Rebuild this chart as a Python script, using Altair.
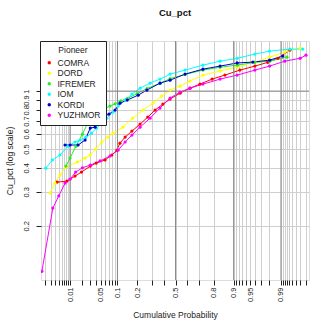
import math
import altair as alt
import pandas as pd

groups = ["COMRA", "DORD", "IFREMER", "IOM", "KORDI", "YUZHMOR"]
colors = ["#FF0000", "#FFFF00", "#22EE22", "#00FFFF", "#0000CD", "#FF00FF"]

comra_p = [0.0045, 0.0083, 0.0133, 0.019, 0.030, 0.040, 0.060, 0.080, 0.098, 0.110, 0.133, 0.168,
           0.217, 0.27, 0.326, 0.39, 0.452, 0.54, 0.625, 0.705, 0.79, 0.862, 0.922, 0.96, 0.979,
           0.988, 0.9942]
comra_v = [0.337, 0.341, 0.362, 0.380, 0.408, 0.423, 0.439, 0.466, 0.494, 0.537, 0.577, 0.620,
           0.674, 0.733, 0.797, 0.856, 0.909, 0.976, 1.036, 1.087, 1.154, 1.211, 1.285, 1.348, 1.41,
           1.48, 1.632]

dord_p = [0.0028, 0.0039, 0.0054, 0.0078, 0.0152, 0.023, 0.030, 0.039, 0.052, 0.068, 0.084, 0.123,
          0.172, 0.237, 0.31, 0.38, 0.452, 0.54, 0.625, 0.727, 0.837, 0.913, 0.96, 0.981, 0.992, 0.997]
dord_v = [0.296, 0.333, 0.367, 0.403, 0.428, 0.449, 0.466, 0.500, 0.544, 0.577, 0.605, 0.650,
          0.724, 0.797, 0.866, 0.942, 1.012, 1.061, 1.127, 1.211, 1.27, 1.332, 1.414, 1.50, 1.594, 1.672]

ifremer_p = [0.0078, 0.010, 0.014, 0.020, 0.027, 0.035, 0.044, 0.055, 0.074, 0.091, 0.114, 0.143,
             0.198, 0.264, 0.366, 0.452, 0.583, 0.727, 0.837, 0.913, 0.96, 0.981, 0.993]
ifremer_v = [0.408, 0.449, 0.518, 0.598, 0.69, 0.76, 0.78, 0.806, 0.836, 0.86, 0.89, 0.915,
             0.97, 1.03, 1.10, 1.16, 1.22, 1.285, 1.33, 1.364, 1.41, 1.43, 1.50]

iom_p = [0.0021, 0.0033, 0.0054, 0.0089, 0.0133, 0.0176, 0.024, 0.032, 0.041, 0.052, 0.065, 0.084,
         0.103, 0.133, 0.168, 0.217, 0.287, 0.366, 0.452, 0.583, 0.727, 0.837, 0.913, 0.96, 0.981,
         0.9942, 0.9975]
iom_v = [0.398, 0.439, 0.466, 0.518, 0.544, 0.557, 0.577, 0.605, 0.643, 0.682, 0.724, 0.778,
         0.836, 0.898, 0.965, 1.036, 1.10, 1.154, 1.225, 1.285, 1.364, 1.43, 1.48, 1.556, 1.613,
         1.652, 1.652]

kordi_p = [0.0074, 0.010, 0.0158, 0.023, 0.030, 0.038, 0.044, 0.055, 0.071, 0.091, 0.11, 0.143,
           0.205, 0.264, 0.366, 0.452, 0.583, 0.727, 0.837, 0.913, 0.956, 0.981, 0.991]
kordi_v = [0.525, 0.525, 0.525, 0.557, 0.643, 0.65, 0.707, 0.733, 0.76, 0.797, 0.866, 0.898,
           0.953, 1.012, 1.10, 1.14, 1.225, 1.30, 1.348, 1.40, 1.414, 1.448, 1.52]

yuzhmor_p = [0.0016, 0.0034, 0.005, 0.0074, 0.010, 0.0138, 0.020, 0.030, 0.048, 0.074, 0.103,
             0.133, 0.168, 0.217, 0.287, 0.366, 0.452, 0.54, 0.625, 0.727, 0.837, 0.913, 0.96,
             0.981, 0.992, 0.997, 0.998]
yuzhmor_v = [0.116, 0.247, 0.286, 0.333, 0.349, 0.38, 0.40, 0.413, 0.434, 0.46, 0.494, 0.544,
             0.591, 0.65, 0.724, 0.816, 0.92, 0.988, 1.036, 1.087, 1.154, 1.211, 1.285, 1.348,
             1.43, 1.48, 1.537]

major_probs = [0.01, 0.05, 0.1, 0.2, 0.5, 0.8, 0.9, 0.95, 0.99]
major_labels = ["0.01", "0.05", "0.1", "0.2", "0.5", "0.8", "0.9", "0.95", "0.99"]
minor_probs = ([i / 1000 for i in range(2, 10)] + [i / 100 for i in range(2, 10)] +
               [i / 10 for i in range(2, 9)] + [i / 100 for i in range(91, 100)] +
               [i / 1000 for i in range(991, 999)])
dark_probs = [0.01, 0.1, 0.5, 0.9, 0.99]
y_ticks = [0.2, 0.3, 0.4, 0.5, 0.6, 0.7, 0.8, 0.9, 1.0]
dark_y = [1.0]
x_range_probs = [0.0015, 0.99838]
y_range = [0.1046, 1.82]


def qnorm(p):
    lo, hi = -10.0, 10.0
    for _ in range(200):
        mid = (lo + hi) / 2
        if 0.5 * (1 + math.erf(mid / math.sqrt(2))) < p:
            lo = mid
        else:
            hi = mid
    return (lo + hi) / 2


series = {
    "COMRA": (comra_p, comra_v),
    "DORD": (dord_p, dord_v),
    "IFREMER": (ifremer_p, ifremer_v),
    "IOM": (iom_p, iom_v),
    "KORDI": (kordi_p, kordi_v),
    "YUZHMOR": (yuzhmor_p, yuzhmor_v),
}
rows = []
for gi, g in enumerate(groups):
    ps, vs = series[g]
    for i, (p, v) in enumerate(zip(ps, vs)):
        rows.append({"Pioneer": g, "p": p, "z": qnorm(p), "v": v, "order": gi * 1000 + i})
df = pd.DataFrame(rows)

tick_z = sorted(set(round(qnorm(p), 6) for p in set(minor_probs + major_probs)))
xdom = [qnorm(x_range_probs[0]), qnorm(x_range_probs[1])]

label_expr = ""
for p, lab in zip(major_probs, major_labels):
    label_expr += "abs(datum.value - (%.6f)) < 0.0005 ? '%s' : " % (qnorm(p), lab)
label_expr += "''"

FONT = "Liberation Sans"

xscale = alt.Scale(domain=xdom, nice=False, zero=False)
yscale = alt.Scale(type="log", domain=y_range, nice=False, zero=False)

xaxis = alt.Axis(values=tick_z, labelExpr=label_expr, labelAngle=270, labelAlign="right",
                 labelBaseline="middle", labelFontSize=7.5, labelFont=FONT, labelColor="#222222",
                 tickSize=5, tickColor="#222222", labelPadding=2, domain=False,
                 grid=True, gridColor="#CFCFCF", gridWidth=1,
                 title="Cumulative Probability", titleFont=FONT, titleFontSize=8.5,
                 titleFontWeight="normal", titlePadding=9, titleColor="#222222",
                 labelOverlap=False, labelBound=False, labelFlush=False, labelSeparation=0)
yaxis = alt.Axis(values=y_ticks, labelExpr="toString(datum.value)", labelAngle=270,
                 labelAlign="center", labelBaseline="bottom", labelFontSize=7.5, labelFont=FONT,
                 labelColor="#222222", tickSize=5, tickColor="#222222", labelPadding=6,
                 domain=False, grid=True, gridColor="#CFCFCF", gridWidth=1,
                 title="Cu_pct (log scale)", titleFont=FONT, titleFontSize=8.5,
                 titleFontWeight="normal", titlePadding=8, titleColor="#222222",
                 labelOverlap=False, labelBound=False, labelFlush=False, labelSeparation=0)

color_scale = alt.Scale(domain=groups, range=colors)

legend = alt.Legend(title="Pioneer", orient="none", legendX=-1, legendY=0,
                    direction="vertical", strokeColor="#222222",
                    fillColor="white", padding=5, titleAnchor="middle",
                    titleFont=FONT, titleFontSize=8.5, titleFontWeight="normal",
                    titleColor="#222222", labelFont=FONT, labelFontSize=8.5,
                    labelColor="#222222", symbolType="circle", symbolSize=12,
                    symbolStrokeWidth=0, rowPadding=1.5, titlePadding=4,
                    labelOffset=4, cornerRadius=0)

base = alt.Chart(df)

lines = base.mark_line(strokeWidth=1, clip=True).encode(
    x=alt.X("z:Q", scale=xscale, axis=xaxis),
    y=alt.Y("v:Q", scale=yscale, axis=yaxis),
    color=alt.Color("Pioneer:N", scale=color_scale, legend=legend),
    detail="Pioneer:N",
    order="order:Q",
)

points = base.mark_point(filled=True, shape="circle", size=10, opacity=1, clip=True).encode(
    x=alt.X("z:Q", scale=xscale, axis=xaxis),
    y=alt.Y("v:Q", scale=yscale, axis=yaxis),
    color=alt.Color("Pioneer:N", scale=color_scale, legend=legend),
)

dark_df_x = pd.DataFrame({"z": [qnorm(p) for p in dark_probs]})
dark_df_y = pd.DataFrame({"v": dark_y})

dark_x = alt.Chart(dark_df_x).mark_rule(color="#888888", strokeWidth=1).encode(
    x=alt.X("z:Q", scale=xscale, axis=xaxis)
)
dark_yr = alt.Chart(dark_df_y).mark_rule(color="#888888", strokeWidth=1).encode(
    y=alt.Y("v:Q", scale=yscale, axis=yaxis)
)

chart = alt.layer(lines, dark_x, dark_yr, points).properties(
    width=268, height=239,
    title=alt.TitleParams("Cu_pct", font=FONT, fontSize=9.5, fontWeight="bold", color="#111111",
                          anchor="middle", offset=23),
    autosize=alt.AutoSizeParams(type="none"),
    padding={"left": 41, "top": 41, "right": 22, "bottom": 51},
).configure_view(stroke="#222222", strokeWidth=1).configure(background="white").configure_axis(
    labelOverlap=False
)

chart.save("out.html", embed_options={"renderer": "svg", "actions": False})
